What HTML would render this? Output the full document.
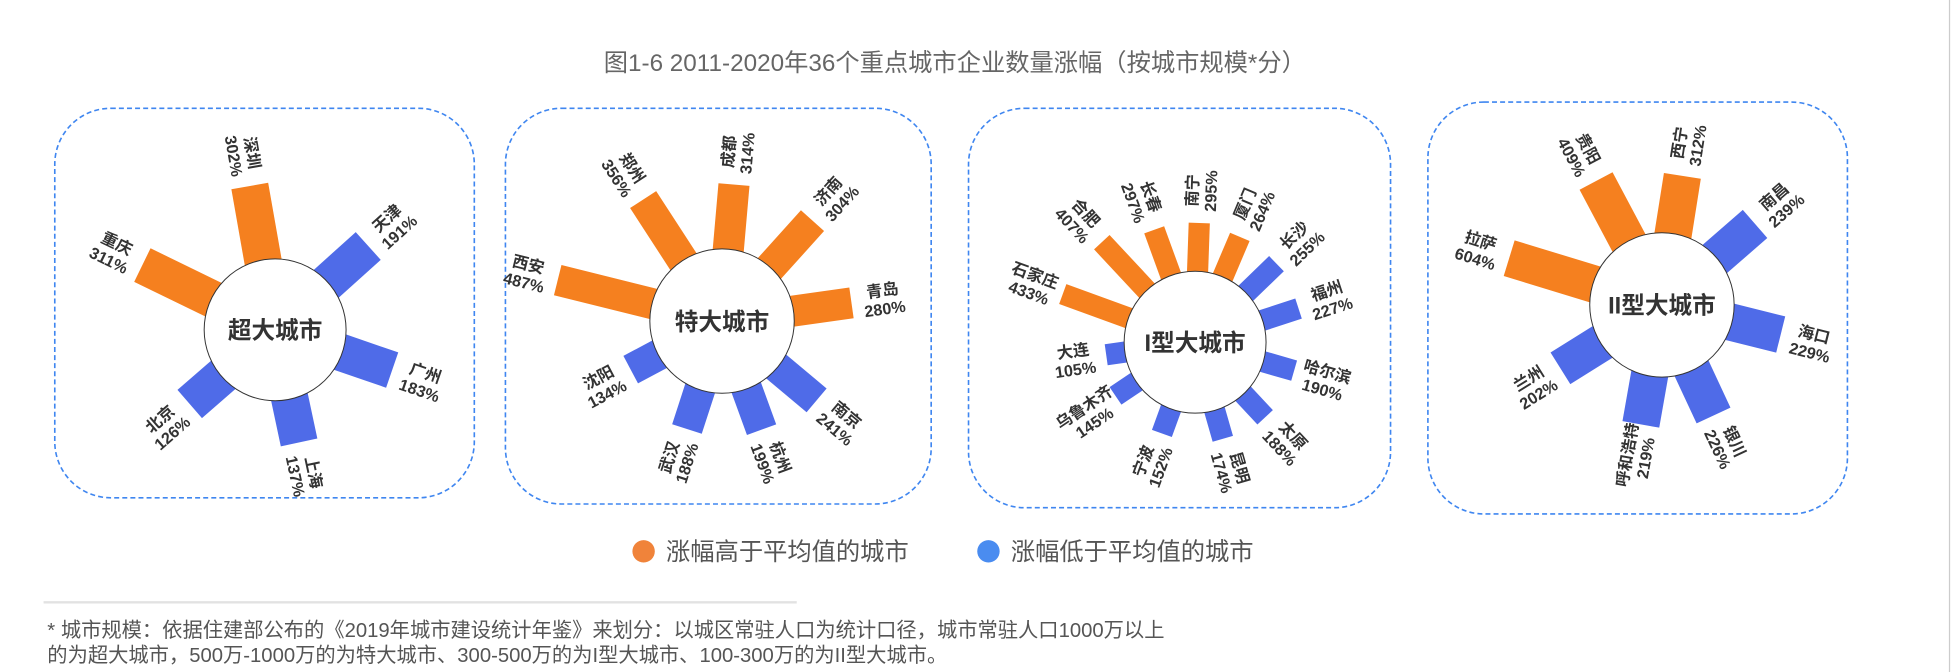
<!DOCTYPE html>
<html><head><meta charset="utf-8">
<style>
html,body{margin:0;padding:0;background:#fff;}
svg{display:block;}
text{font-family:"Liberation Sans","Noto Sans CJK SC",sans-serif;}
</style></head>
<body>
<svg id="chart" width="1952" height="672" viewBox="0 0 1568 540" preserveAspectRatio="none" xmlns="http://www.w3.org/2000/svg">
  <text x="767" y="57" text-anchor="middle" font-size="19.5" fill="#666">图1-6 2011-2020年36个重点城市企业数量涨幅（按城市规模*分）</text>
  <line x1="1566" y1="0" x2="1566" y2="540" stroke="#ccc" stroke-width="1"/>
  <g id="panels"></g>
  <g>
    <circle cx="517" cy="443" r="9" fill="#F0833A"/>
    <text x="535" y="450" font-size="19.5" fill="#555">涨幅高于平均值的城市</text>
    <circle cx="794" cy="443" r="9" fill="#4A8CF0"/>
    <text x="812" y="450" font-size="19.5" fill="#555">涨幅低于平均值的城市</text>
  </g>
  <line x1="35" y1="484" x2="640" y2="484" stroke="#e2e2e2" stroke-width="2"/>
  <text x="38" y="512" font-size="16.3" fill="#555">* 城市规模：依据住建部公布的《2019年城市建设统计年鉴》来划分：以城区常驻人口为统计口径，城市常驻人口1000万以上</text>
  <text x="38" y="532" font-size="16.3" fill="#555">的为超大城市，500万-1000万的为特大城市、300-500万的为I型大城市、100-300万的为II型大城市。</text>
</svg>
<script>
// ---- data ----
const panelTitles = ["超大城市","特大城市","I型大城市","II型大城市"];
const p1Cities = ["深圳","天津","广州","上海","北京","重庆"];
const p1Values = [302,191,183,137,126,311];
const p1Angles = [-10,48,109,168,229,296];
const p1Above = [1,0,0,0,0,1];
const p2Cities = ["成都","济南","青岛","南京","杭州","武汉","沈阳","西安","郑州"];
const p2Values = [314,304,280,241,199,188,134,487,356];
const p2Angles = [5,42,82,130,160,198,242,284,327];
const p2Above = [1,1,1,0,0,0,0,1,1];
const p3Cities = ["南宁","厦门","长沙","福州","哈尔滨","太原","昆明","宁波","乌鲁木齐","大连","石家庄","合肥","长春"];
const p3Values = [295,264,255,227,190,188,174,152,145,105,433,407,297];
const p3Angles = [2,23,46,72,106,137,164,200,236,262,290,317,340];
const p3Above = [1,1,0,0,0,0,0,0,0,0,1,1,1];
const p4Cities = ["西宁","南昌","海口","银川","呼和浩特","兰州","拉萨","贵阳"];
const p4Values = [312,239,229,226,219,202,604,409];
const p4Angles = [9,49,104,155,190,238,287,332];
const p4Above = [1,0,0,0,0,0,1,1];

// ---- layout (not data) ----
const layout = [
  {box:[44,87,337,313], c:[221,265], r:57, k:0.15, off:15, w:30},
  {box:[406,87,342,318], c:[580,258], r:58, k:0.15, off:5, w:25},
  {box:[778,87,339,321], c:[960,275], r:57, k:0.125, off:2, w:17},
  {box:[1147,82,337,331], c:[1335,245], r:58, k:0.08, off:22, w:30}
];
const sets = [
  [p1Cities,p1Values,p1Angles,p1Above],
  [p2Cities,p2Values,p2Angles,p2Above],
  [p3Cities,p3Values,p3Angles,p3Above],
  [p4Cities,p4Values,p4Angles,p4Above]
];
const NS = "http://www.w3.org/2000/svg";
const root = document.getElementById("panels");
function mk(tag, attrs, parent){
  const e = document.createElementNS(NS, tag);
  for (const k in attrs) e.setAttribute(k, attrs[k]);
  parent.appendChild(e);
  return e;
}
const ORANGE = "#F5801F", BLUE = "#4F6BE8";
sets.forEach((s, pi) => {
  const L = layout[pi];
  const g = mk("g", {}, root);
  
  
  const b = L.box;
  const frame = mk("rect", {x:b[0], y:b[1], width:b[2], height:b[3], rx:45, ry:45, fill:"none", stroke:"#3F86F0", "stroke-width":1.3, "stroke-dasharray":"4 2.5"}, g);
  
  
  const [cities, vals, angs, above] = s;
  const [cx, cy] = L.c;
  cities.forEach((name, i) => {
    const a = angs[i];
    const len = L.off + vals[i] * L.k;
    const bar = mk("rect", {x:L.r - 2, y:-L.w/2, width:len + 2, height:L.w,
      fill: above[i] ? ORANGE : BLUE,
      transform:`translate(${cx},${cy}) rotate(${a-90})`}, g);
    
    
    const rad = (a - 90) * Math.PI / 180;
    const d = L.r + len + 26;
    const lx = cx + d * Math.cos(rad), ly = cy + d * Math.sin(rad);
    let rot = a - 90;
    while (rot > 90) rot -= 180;
    while (rot <= -90) rot += 180;
    const t = mk("text", {transform:`translate(${lx.toFixed(1)},${ly.toFixed(1)}) rotate(${rot})`, "text-anchor":"middle", "font-size":13, "font-weight":"bold", fill:"#333"}, g);
    
    
    const t1 = mk("tspan", {x:0, y:-2}, t); t1.textContent = name;
    const t2 = mk("tspan", {x:0, y:13}, t); t2.textContent = vals[i] + "%";
  });
  const circ = mk("circle", {cx, cy, r:L.r, fill:"#fff", stroke:"#333", "stroke-width":0.8}, g);
  
  
  const ct = mk("text", {x:cx, y:cy+7, "text-anchor":"middle", "font-size":19, "font-weight":"bold", fill:"#333"}, g);
  
  
  ct.textContent = panelTitles[pi];
});
</script>
</body></html>
